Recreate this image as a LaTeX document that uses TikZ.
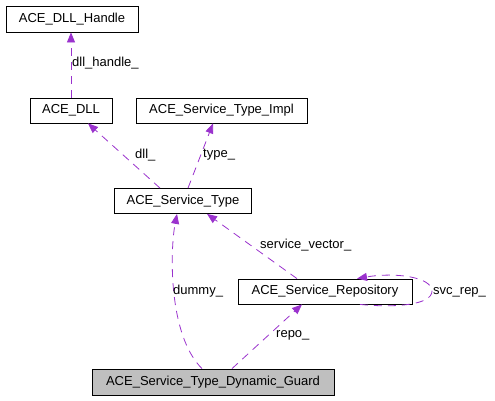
\documentclass[tikz,border=0pt]{standalone}
\usepackage{fontspec}
\setmainfont{Liberation Sans}
\usepackage{tikz}
\usetikzlibrary{arrows.meta, calc}
\usepackage{xcolor}
\definecolor{usage}{HTML}{9A32CD}
\definecolor{guardfill}{HTML}{BFBFBF}

\begin{document}
\begin{tikzpicture}[x=1pt,y=-1pt,
		cls/.style={draw=black,line width=0.8pt,inner sep=0pt,minimum height=25pt,font=\fontsize{13}{15}\selectfont},
		lbl/.style={anchor=west,inner sep=0pt,font=\fontsize{13}{15}\selectfont},
		use/.style={draw=usage,line width=0.8pt,dash pattern=on 8pt off 6pt,-{Triangle[length=10pt,width=8pt,fill=usage]}}]
				\useasboundingbox (0,0) rectangle (495,400);
				\node[cls,minimum width=132pt,minimum height=26pt] (handle) at (72,19) {ACE\_DLL\_Handle};
				\node[cls,minimum width=82pt] (dll) at (71,110.5) {ACE\_DLL};
				\node[cls,minimum width=171pt] (impl) at (221.5,110.5) {ACE\_Service\_Type\_Impl};
				\node[cls,minimum width=137pt] (stype) at (183,201) {ACE\_Service\_Type};
				\node[cls,minimum width=174pt] (repo) at (325,291.5) {ACE\_Service\_Repository};
				\node[cls,fill=guardfill,minimum width=242pt,minimum height=26pt] (guard) at (213,382) {ACE\_Service\_Type\_Dynamic\_Guard};
				\draw[use] (dll.north) -- (dll.north |- handle.south);
				\draw[use] ([xshift=-23pt]stype.north) -- ([xshift=17pt]dll.south);
				\draw[use] ([xshift=5pt]stype.north) -- ([xshift=-8.5pt]impl.south);
				\draw[use] ([xshift=-11pt]guard.north) .. controls (168,335) and (170,250) .. ([xshift=-6pt]stype.south);
				\draw[use] ([xshift=-28pt]repo.north) -- ([xshift=24pt]stype.south);
				\draw[use] ([xshift=19pt]guard.north) -- ([xshift=-23pt]repo.south);
				\draw[use] ($(repo.south)+(35,0)$) .. controls (395,308) and (432,305) .. (432,291) .. controls (432,277) and (395,272) .. ($(repo.north)+(32,0)$);
				\node[lbl] (lHandle) at (72,63) {dll\_handle\_};
				\node[lbl] (lDll) at (135,155) {dll\_};
				\node[lbl] (lType) at (203,155) {type\_};
				\node[lbl] (lVector) at (260,245) {service\_vector\_};
				\node[lbl] (lDummy) at (173,291) {dummy\_};
				\node[lbl] (lRepo) at (276,335) {repo\_};
				\node[lbl] (lSvc) at (433,292) {svc\_rep\_};
\end{tikzpicture}
\end{document}
